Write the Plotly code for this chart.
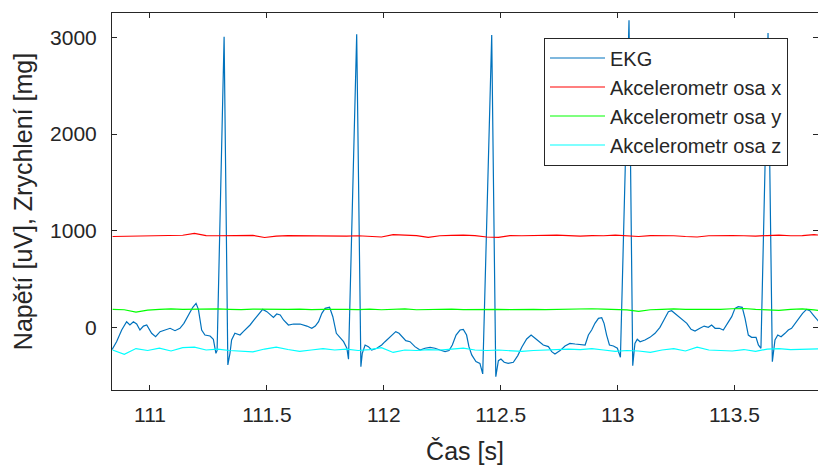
import plotly.graph_objects as go

# ---- EKG (time [s], value [uV]) ----
ekg_t = [110.838, 110.857, 110.879, 110.900, 110.914, 110.929, 110.943, 110.957, 110.972, 110.986,
         111.007, 111.024, 111.043, 111.064, 111.086, 111.107, 111.128, 111.145, 111.164, 111.183,
         111.197, 111.207, 111.221, 111.235, 111.257, 111.271, 111.282, 111.287, 111.317, 111.333,
         111.342, 111.349, 111.363, 111.385, 111.399, 111.414, 111.428, 111.445, 111.464, 111.482,
         111.500, 111.514, 111.528, 111.542, 111.557, 111.571, 111.592, 111.614, 111.642, 111.671,
         111.692, 111.707, 111.721, 111.735, 111.749, 111.768, 111.782, 111.797, 111.814, 111.828,
         111.842, 111.849, 111.884, 111.902, 111.908, 111.920, 111.934, 111.948, 111.970, 111.991,
         112.005, 112.019, 112.034, 112.051, 112.065, 112.079, 112.094, 112.112, 112.133, 112.155,
         112.176, 112.198, 112.219, 112.240, 112.262, 112.279, 112.293, 112.309, 112.326, 112.340,
         112.354, 112.364, 112.376, 112.394, 112.411, 112.423, 112.4615, 112.479, 112.490, 112.501,
         112.515, 112.532, 112.554, 112.573, 112.590, 112.611, 112.630, 112.647, 112.664, 112.682,
         112.704, 112.718, 112.732, 112.754, 112.775, 112.796, 112.818, 112.839, 112.861, 112.875,
         112.889, 112.903, 112.918, 112.932, 112.942, 112.953, 112.965, 112.982, 112.999, 113.012,
         113.0487, 113.0646, 113.074, 113.084, 113.096, 113.117, 113.138, 113.160, 113.181, 113.198,
         113.217, 113.231, 113.253, 113.274, 113.296, 113.314, 113.331, 113.352, 113.370, 113.388,
         113.402, 113.417, 113.435, 113.452, 113.469, 113.488, 113.502, 113.516, 113.533, 113.545,
         113.559, 113.573, 113.592, 113.602, 113.613, 113.6433, 113.6617, 113.673, 113.685, 113.699,
         113.716, 113.730, 113.744, 113.759, 113.773, 113.791, 113.808, 113.822, 113.837, 113.854,
         113.860]
ekg_v = [-230, -149, -28, 58, 24, 58, 34, -28, 13, 24,
         -62, -97, -45, -28, -10, -35, -10, 41, 127, 207,
         248, 186, -28, -80, -90, -124, -269, -240, 3008, -390,
         -269, -131, -62, -80, -45, -10, 24, 76, 138, 186,
         162, 127, 103, 138, 127, 76, 24, 34, 34, 13,
         -10, 13, 58, 145, 196, 207, 110, -62, -114, -149,
         -217, -330, 3033, -408, -269, -183, -200, -235, -217, -183,
         -149, -114, -80, -45, -62, -97, -138, -149, -200, -235,
         -217, -207, -217, -235, -252, -241, -183, -80, -28, -21,
         -80, -200, -286, -355, -373, -483, 3025, -511, -345, -328,
         -362, -373, -362, -293, -207, -121, -80, -114, -149, -183,
         -200, -252, -276, -241, -193, -166, -173, -175, -183, -80,
         -28, 41, 93, 100, 41, -80, -183, -193, -217, -311,
         3180, -397, -166, -124, -149, -131, -104, -62, 0, 76,
         162, 172, 127, 93, 41, -21, -38, -10, 13, 0,
         24, -10, -10, -28, 41, 110, 196, 214, 207, 93,
         -80, -104, -104, -183, -217, 3046, -356, -131, -80, -97,
         -62, -28, -10, 41, 93, 145, 186, 172, 127, 76,
         60]

# ---- Accelerometer (time [s], value [mg]) ----
acc_t = [110.84, 110.89, 110.94, 110.99, 111.04, 111.09, 111.14, 111.19, 111.24, 111.29,
         111.34, 111.39, 111.44, 111.49, 111.54, 111.59, 111.64, 111.69, 111.74, 111.79,
         111.84, 111.89, 111.94, 111.99, 112.04, 112.09, 112.14, 112.19, 112.24, 112.29,
         112.34, 112.39, 112.44, 112.49, 112.54, 112.59, 112.64, 112.69, 112.74, 112.79,
         112.84, 112.89, 112.94, 112.99, 113.04, 113.09, 113.14, 113.19, 113.24, 113.29,
         113.34, 113.39, 113.44, 113.49, 113.54, 113.59, 113.64, 113.69, 113.74, 113.79,
         113.84, 113.86]
acc_x = [940, 942, 945, 950, 952, 950, 953, 972, 950, 948,
         950, 947, 952, 930, 945, 950, 948, 952, 950, 946,
         944, 948, 945, 935, 960, 952, 950, 932, 948, 952,
         955, 950, 935, 932, 950, 948, 952, 950, 955, 950,
         945, 950, 948, 955, 946, 940, 950, 952, 948, 940,
         935, 948, 952, 950, 948, 945, 950, 955, 948, 950,
         960, 955]
acc_y = [185, 182, 158, 178, 185, 190, 186, 188, 185, 190,
         186, 183, 188, 186, 190, 185, 188, 183, 186, 188,
         186, 184, 188, 182, 186, 190, 182, 186, 184, 188,
         183, 186, 190, 186, 184, 188, 186, 183, 187, 190,
         195, 192, 188, 185, 180, 165, 182, 186, 190, 186,
         184, 188, 186, 192, 195, 186, 182, 175, 186, 190,
         180, 175]
acc_z = [-235, -280, -220, -240, -215, -245, -210, -205, -235, -225,
         -240, -250, -255, -225, -205, -230, -250, -235, -220, -235,
         -225, -240, -230, -210, -260, -235, -240, -230, -235, -225,
         -215, -235, -240, -235, -245, -250, -240, -235, -230, -225,
         -230, -220, -235, -250, -240, -245, -260, -235, -220, -245,
         -205, -235, -240, -245, -230, -250, -225, -220, -232, -225,
         -220, -222]

x_ticks = [111, 111.5, 112, 112.5, 113, 113.5]
x_tick_labels = ["111", "111.5", "112", "112.5", "113", "113.5"]
y_ticks = [0, 1000, 2000, 3000]
y_tick_labels = ["0", "1000", "2000", "3000"]

FONT = "Liberation Sans, Arial, Helvetica, sans-serif"
AX = "#262626"

fig = go.Figure()
fig.add_trace(go.Scatter(x=ekg_t, y=ekg_v, mode="lines", name="EKG",
                         line=dict(color="#0072BD", width=1.2)))
fig.add_trace(go.Scatter(x=acc_t, y=acc_x, mode="lines", name="Akcelerometr osa x",
                         line=dict(color="#FF0000", width=1.2)))
fig.add_trace(go.Scatter(x=acc_t, y=acc_y, mode="lines", name="Akcelerometr osa y",
                         line=dict(color="#00FF00", width=1.2)))
fig.add_trace(go.Scatter(x=acc_t, y=acc_z, mode="lines", name="Akcelerometr osa z",
                         line=dict(color="#00FFFF", width=1.2)))

fig.update_layout(
    width=818, height=466,
    margin=dict(l=112, r=0, t=13, b=76, autoexpand=False),
    paper_bgcolor="white", plot_bgcolor="white",
    font=dict(family=FONT, color=AX, size=21),
    showlegend=True,
    legend=dict(
        x=0.6119, y=0.935, xanchor="left", yanchor="top",
        bgcolor="white", bordercolor=AX, borderwidth=1,
        font=dict(family=FONT, size=20, color=AX),
        itemwidth=55, tracegroupgap=0,
    ),
)
fig.update_xaxes(
    range=[110.8375, 113.857], tickvals=x_ticks, ticktext=x_tick_labels,
    showgrid=False, zeroline=False, showline=True, linecolor=AX, linewidth=1,
    mirror="ticks", ticks="inside", ticklen=5, tickcolor=AX, tickwidth=1,
    tickfont=dict(size=21, family=FONT, color=AX), ticklabelstandoff=6,
    title=dict(text="Čas [s]", font=dict(size=25, family=FONT, color=AX), standoff=17),
)
fig.update_yaxes(
    range=[-649, 3254], tickvals=y_ticks, ticktext=y_tick_labels,
    showgrid=False, zeroline=False, showline=True, linecolor=AX, linewidth=1,
    mirror="ticks", ticks="inside", ticklen=5, tickcolor=AX, tickwidth=1,
    tickfont=dict(size=21, family=FONT, color=AX), ticklabelstandoff=10,
    title=dict(text="Napětí [uV], Zrychlení [mg]", font=dict(size=25, family=FONT, color=AX), standoff=10),
)

fig.write_html("out.html")
